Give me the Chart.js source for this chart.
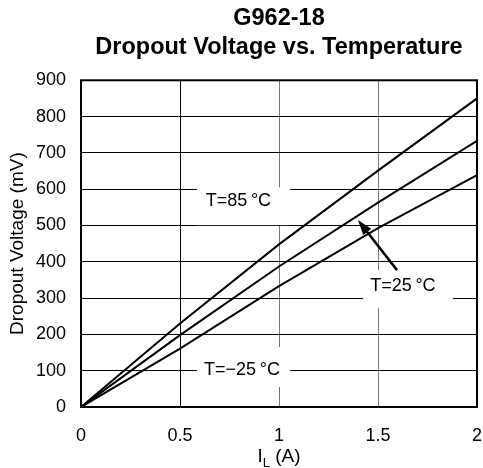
<!DOCTYPE html>
<html>
<head>
<meta charset="utf-8">
<script src="https://cdn.jsdelivr.net/npm/chart.js@4.4.0/dist/chart.umd.min.js"></script>
<style>
  html, body { margin: 0; padding: 0; background: #fff; }
  #wrap { width: 483px; height: 468px; }
</style>
</head>
<body>
<div id="wrap"><canvas id="myChart" width="483" height="468"></canvas></div>
<script>
// load current (A)
const current = [0, 0.5, 1, 1.5, 2];

// dropout voltage (mV) per temperature
const t85 = [0, 230, 448, 651, 850];
const t25 = [0, 198, 387, 563, 733];
const tMinus25 = [0, 161, 333, 493, 639];

const xTickLabels = ['0', '0.5', '1', '1.5', '2'];
const titleLines = ['G962-18', 'Dropout Voltage vs. Temperature'];

const FONT = "'Liberation Sans', Arial, Helvetica, sans-serif";

function pts(ys) {
  return current.map((x, i) => ({ x: x, y: ys[i] }));
}

// text labels in data coords, with white boxes that cut the grid
const notes = [
  { text: 'T=85\u2009°C', x: 0.795, y: 567, box: [0.586, 1.056, 605, 501] },
  { text: 'T=25\u2009°C', x: 1.626, y: 333, box: [1.424, 1.879, 377, 272] },
  { text: 'T=\u221225\u2009°C', x: 0.813, y: 102, box: [0.586, 1.056, 165, 55] }
];

const extras = {
  id: 'extras',
  afterDatasetsDraw(chart) {
    const c = chart.ctx, a = chart.chartArea;
    c.save();
    c.strokeStyle = '#000';
    c.lineWidth = 2;
    c.strokeRect(a.left, a.top, a.right - a.left, a.bottom - a.top);
    c.restore();
  },
  afterDraw(chart) {
    const c = chart.ctx, xs = chart.scales.x, ys = chart.scales.y;
    c.save();
    notes.forEach(n => {
      const x1 = xs.getPixelForValue(n.box[0]), x2 = xs.getPixelForValue(n.box[1]);
      const y1 = ys.getPixelForValue(n.box[2]), y2 = ys.getPixelForValue(n.box[3]);
      c.fillStyle = '#fff';
      c.fillRect(x1, y1, x2 - x1, y2 - y1);
      c.fillStyle = '#000';
      c.font = '18px ' + FONT;
      c.textAlign = 'center';
      c.textBaseline = 'middle';
      c.fillText(n.text, xs.getPixelForValue(n.x), ys.getPixelForValue(n.y));
    });

    // arrow to the T=25 line
    const tx = xs.getPixelForValue(1.596), ty = ys.getPixelForValue(377);
    const hx = xs.getPixelForValue(1.399), hy = ys.getPixelForValue(515);
    const ang = Math.atan2(hy - ty, hx - tx);
    c.strokeStyle = '#000';
    c.lineWidth = 2.5;
    c.beginPath();
    c.moveTo(tx, ty);
    c.lineTo(hx - 10 * Math.cos(ang), hy - 10 * Math.sin(ang));
    c.stroke();
    c.beginPath();
    c.moveTo(hx, hy);
    c.lineTo(hx - 15 * Math.cos(ang) + 5 * Math.sin(ang), hy - 15 * Math.sin(ang) - 5 * Math.cos(ang));
    c.lineTo(hx - 15 * Math.cos(ang) - 5 * Math.sin(ang), hy - 15 * Math.sin(ang) + 5 * Math.cos(ang));
    c.closePath();
    c.fill();

    // x axis title with subscript
    const cx = (chart.chartArea.left + chart.chartArea.right) / 2;
    const by = 462;
    c.font = '19px ' + FONT;
    c.textBaseline = 'alphabetic';
    c.textAlign = 'left';
    const wI = c.measureText('I').width;
    const wRest = c.measureText(' (A)').width;
    c.font = '13px ' + FONT;
    const wL = c.measureText('L').width;
    let x0 = cx - (wI + wL + wRest) / 2;
    c.font = '19px ' + FONT;
    c.fillText('I', x0, by);
    c.font = '13px ' + FONT;
    c.fillText('L', x0 + wI, by + 5);
    c.font = '19px ' + FONT;
    c.fillText(' (A)', x0 + wI + wL, by);
    c.restore();
  }
};

const ctx = document.getElementById('myChart');

const line = (label, ys) => ({
  label: label,
  data: pts(ys),
  borderColor: '#000',
  borderWidth: 2,
  pointRadius: 0,
  tension: 0,
  fill: false
});

new Chart(ctx, {
  type: 'line',
  data: {
    datasets: [
      line('T=85°C', t85),
      line('T=25°C', t25),
      line('T=-25°C', tMinus25)
    ]
  },
  options: {
    responsive: false,
    animation: false,
    layout: { padding: { left: 0, right: 6, top: 0, bottom: 0 } },
    plugins: {
      legend: { display: false },
      tooltip: { enabled: false },
      title: {
        display: true,
        fullSize: false,
        text: titleLines,
        color: '#000',
        font: { family: FONT, size: 23.5, weight: 'bold', lineHeight: 1.24 },
        padding: { top: 4, bottom: 18 }
      }
    },
    scales: {
      x: {
        type: 'linear',
        min: 0,
        max: 2,
        afterFit(s) { s.height = 61; },
        ticks: {
          stepSize: 0.5,
          color: '#000',
          padding: 0,
          font: { family: FONT, size: 18 },
          callback: (v) => xTickLabels[current.indexOf(v)] ?? ''
        },
        grid: {
          color: (c) => (c.tick && (c.tick.value === 1 || c.tick.value === 1.5)) ? '#777' : '#000',
          lineWidth: 1,
          drawTicks: true,
          tickLength: 18,
          tickColor: 'rgba(0,0,0,0)'
        },
        border: { display: false }
      },
      y: {
        min: 0,
        max: 900,
        afterFit(s) { s.width = 81; },
        ticks: {
          stepSize: 100,
          color: '#000',
          padding: 15,
          font: { family: FONT, size: 18 }
        },
        grid: { color: '#000', lineWidth: 1, drawTicks: false },
        border: { display: false },
        title: {
          display: true,
          text: 'Dropout Voltage (mV)',
          color: '#000',
          font: { family: FONT, size: 19 },
          padding: { top: 6, bottom: 0 }
        }
      }
    }
  },
  plugins: [extras]
});
</script>
</body>
</html>
